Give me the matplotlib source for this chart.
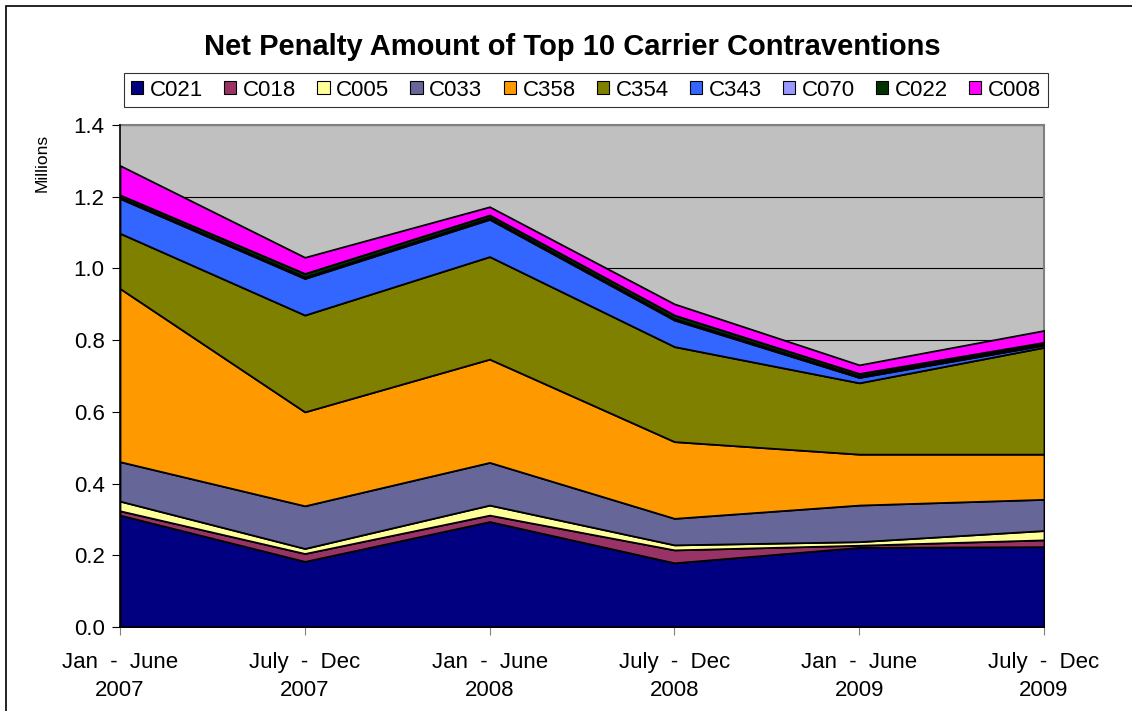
import numpy as np
import matplotlib
matplotlib.use("Agg")
import matplotlib.pyplot as plt
from matplotlib.patches import Patch, Rectangle

plt.rcParams['font.family'] = ['Liberation Sans', 'DejaVu Sans']

periods = ["Jan  -  June\n2007", "July  -  Dec\n2007", "Jan  -  June\n2008",
           "July  -  Dec\n2008", "Jan  -  June\n2009", "July  -  Dec\n2009"]
codes = ["C021", "C018", "C005", "C033", "C358", "C354", "C343", "C070", "C022", "C008"]
colors = ["#000080", "#993366", "#FFFF99", "#666699", "#FF9900",
          "#808000", "#3366FF", "#9999FF", "#003300", "#FF00FF"]

# net penalty, millions
C021 = [0.312, 0.183, 0.294, 0.179, 0.222, 0.224]
C018 = [0.012, 0.022, 0.018, 0.036, 0.006, 0.019]
C005 = [0.027, 0.014, 0.028, 0.014, 0.010, 0.026]
C033 = [0.110, 0.119, 0.119, 0.074, 0.102, 0.087]
C358 = [0.483, 0.262, 0.288, 0.214, 0.142, 0.126]
C354 = [0.154, 0.270, 0.286, 0.265, 0.199, 0.298]
C343 = [0.097, 0.102, 0.104, 0.074, 0.015, 0.006]
C070 = [0.003, 0.004, 0.004, 0.004, 0.004, 0.005]
C022 = [0.007, 0.010, 0.008, 0.010, 0.007, 0.003]
C008 = [0.082, 0.045, 0.023, 0.031, 0.024, 0.033]
series = [C021, C018, C005, C033, C358, C354, C343, C070, C022, C008]

fig = plt.figure(figsize=(11.32, 7.11), dpi=100)
ax = fig.add_axes([120/1132, 1-627/711, 924/1132, 502/711])

x = np.arange(len(periods))
ax.set_facecolor("#C0C0C0")
ax.stackplot(x, *series, colors=colors, edgecolor="black", linewidth=1.3, zorder=3)

ax.set_xlim(0, len(periods)-1)
ax.set_ylim(0, 1.4)
ax.set_yticks(np.arange(0, 1.41, 0.2))
ax.set_yticklabels([f"{v:.1f}" for v in np.arange(0, 1.41, 0.2)], fontsize=16)
ax.set_xticks(x)
ax.set_xticklabels(periods, fontsize=16, linespacing=1.45)
ax.tick_params(axis='x', length=6, pad=12, color="#808080")
ax.tick_params(axis='y', length=6, pad=5)
ax.yaxis.grid(True, color="black", linewidth=0.8, zorder=1)
ax.set_axisbelow(True)
for s in ['top', 'right']:
    ax.spines[s].set_color("#808080")
    ax.spines[s].set_linewidth(1.5)
ax.spines['left'].set_linewidth(1.2)
ax.spines['bottom'].set_linewidth(1.2)
ax.spines['left'].set_zorder(5)
ax.spines['bottom'].set_zorder(5)

fig.text(42/1132, 1-163/711, "Millions", rotation=90, fontsize=12.5, ha='center', va='center')
fig.text(572/1132, 1-47/711, "Net Penalty Amount of Top 10 Carrier Contraventions",
         fontsize=21, fontweight='bold', ha='center', va='center')

handles = [Patch(facecolor=c, edgecolor="black", linewidth=0.8) for c in colors]
leg = fig.legend(handles, codes, loc='center', bbox_to_anchor=(586/1132, 1-90/711),
                 ncol=10, fontsize=16, frameon=True, fancybox=False,
                 handlelength=0.55, handleheight=0.55, handletextpad=0.3,
                 columnspacing=0.95, borderpad=0.3, edgecolor="black")
leg.get_frame().set_linewidth(0.8)

# outer chart border (cropped at right and bottom)
fig.add_artist(Rectangle((6/1132, -0.05), 1.2, 1-6/711+0.05, transform=fig.transFigure,
                         fill=False, edgecolor="black", linewidth=1.2))

fig.savefig("out.png", dpi=100)
